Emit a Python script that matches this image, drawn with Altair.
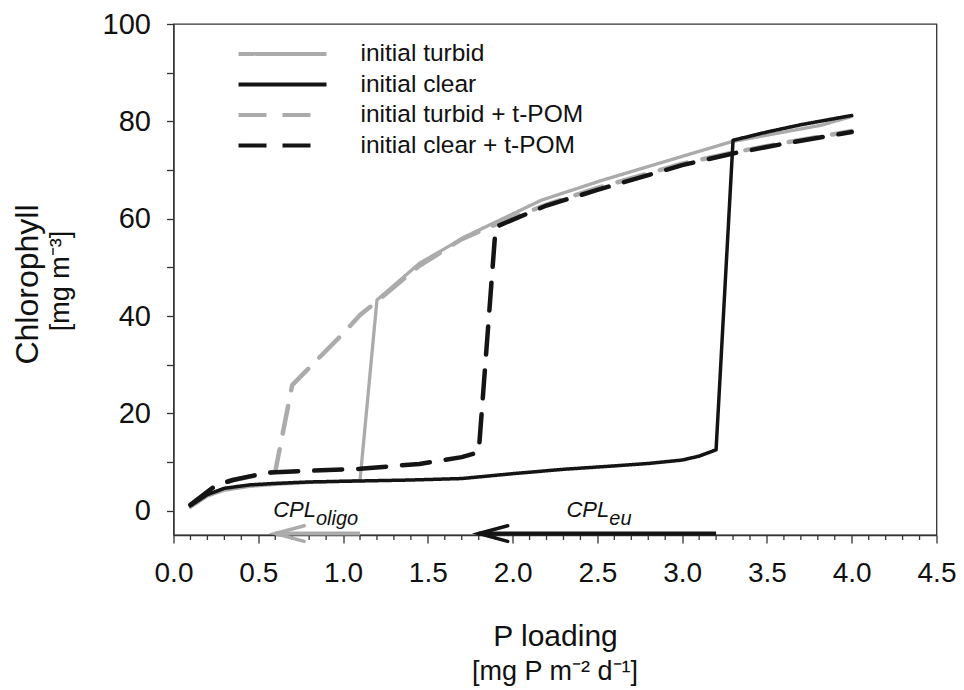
import altair as alt
import pandas as pd

FONT = "Liberation Sans"

# ---------------- data ----------------
series_names = ["initial turbid", "initial clear", "initial turbid + t-POM", "initial clear + t-POM"]
series_colors = ["#ababab", "#141414", "#ababab", "#141414"]
series_dash = [[1, 0], [1, 0], [28, 16], [28, 16]]

turbid_x = [0.1, 0.2, 0.3, 0.45, 0.6, 0.8, 1.1, 1.2, 1.45, 1.72, 2.17, 2.53, 3.02, 3.29, 3.6, 3.82, 4.0]
turbid_y = [0.7, 3.0, 4.2, 5.0, 5.4, 5.8, 6.2, 43.3, 50.8, 56.3, 63.8, 67.9, 73.0, 75.8, 77.8, 79.2, 81.0]

clear_x = [0.1, 0.2, 0.3, 0.45, 0.6, 0.8, 1.1, 1.4, 1.7, 2.0, 2.3, 2.6, 2.8, 3.0, 3.1, 3.2, 3.3, 3.5, 3.7, 4.0]
clear_y = [1.0, 3.3, 4.6, 5.3, 5.6, 5.9, 6.1, 6.3, 6.6, 7.6, 8.5, 9.2, 9.7, 10.4, 11.2, 12.5, 76.1, 77.8, 79.3, 81.2]

turbid_pom_x = [0.1, 0.25, 0.35, 0.6, 0.7, 1.0, 1.1, 1.2, 1.45, 1.7, 1.9, 2.2, 2.5, 3.0, 3.3, 3.6, 4.0]
turbid_pom_y = [1.2, 5.2, 6.3, 8.0, 25.8, 36.4, 40.2, 43.0, 50.3, 55.8, 58.8, 62.9, 66.3, 71.3, 73.6, 75.6, 78.0]

clear_pom_x = [0.1, 0.25, 0.35, 0.55, 0.8, 1.1, 1.45, 1.7, 1.8, 1.9, 2.2, 2.5, 3.0, 3.3, 3.6, 4.0]
clear_pom_y = [1.2, 5.2, 6.3, 7.8, 8.2, 8.6, 9.6, 11.0, 12.0, 58.3, 62.7, 65.9, 71.0, 73.4, 75.4, 77.8]

# critical P loading arrows
arrow_start = [1.1, 3.2]
arrow_end = [0.6, 1.8]
arrow_level = [-4.7, -4.7]
arrow_colors = ["#ababab", "#141414"]

cpl_main = ["CPL", "CPL"]
cpl_sub = ["oligo", "eu"]
cpl_x = [0.84, 2.57]
cpl_y = [-1.4, -1.4]

x_major_ticks = [round(i * 0.5, 1) for i in range(10)]
x_minor_ticks = [round(i * 0.1, 1) for i in range(46) if i % 5 != 0]
y_ticks = [i * 10 for i in range(11)]

x_title = "P loading"
x_units = "[mg P m\u207b\u00b2 d\u207b\u00b9]"
y_title = "Chlorophyll"
y_units = "[mg m\u207b\u00b3]"

# ---------------- build ----------------
frames = []
for name, xs, ys in zip(series_names,
                        [turbid_x, clear_x, turbid_pom_x, clear_pom_x],
                        [turbid_y, clear_y, turbid_pom_y, clear_pom_y]):
    frames.append(pd.DataFrame({"series": name, "P": xs, "chl": ys}))
df = pd.concat(frames, ignore_index=True)

W, H = 763, 511
AX = "#333"

xscale = alt.Scale(domain=[0, 4.5], nice=False, zero=False)
yscale = alt.Scale(domain=[-5, 100], nice=False, zero=False)

x_axis = alt.Axis(
    values=x_major_ticks, format=".1f",
    tickSize=8, labelPadding=16, labelFontSize=28, labelFont=FONT, labelColor="#111",
    labelFlush=False, labelOverlap=False,
    title=x_title, titleFont=FONT, titleFontSize=30, titleFontWeight="normal", titleColor="#111",
    titleX=W / 2, titleY=110, titleBaseline="alphabetic", titleAlign="center",
    domainColor=AX, domainWidth=1.3, tickColor=AX, tickWidth=1.3, grid=False,
)
y_axis = alt.Axis(
    values=y_ticks,
    labelExpr="datum.value % 20 == 0 ? format(datum.value, 'd') : ''",
    tickSize=7, labelPadding=16, labelFontSize=29, labelFont=FONT, labelColor="#111",
    labelFlush=False, labelOverlap=False,
    title=y_title, titleFont=FONT, titleFontSize=32, titleFontWeight="normal", titleColor="#111",
    titleX=-146, titleY=260, titleBaseline="middle", titleAlign="center", titleAngle=270,
    domainColor=AX, domainWidth=1.3, tickColor=AX, tickWidth=1.3, grid=False,
)

# long horizontal legend line drawn as a custom path: spans 8 units of sqrt(size)/2 = 11 px
legend = alt.Legend(
    title=None, orient="none", legendX=63, legendY=17, padding=0,
    labelFont=FONT, labelFontSize=24.5, labelColor="#111", labelOffset=98, labelLimit=500,
    symbolType="M-1,0L7,0", symbolSize=484, symbolStrokeWidth=4, symbolFillColor="transparent",
    rowPadding=5.5,
)

color_scale = alt.Scale(domain=series_names, range=series_colors)
dash_scale = alt.Scale(domain=series_names, range=series_dash)


def series_layer(name, width):
    return alt.Chart(df).transform_filter(alt.datum.series == name).mark_line(
        strokeWidth=width, strokeJoin="round", strokeCap="round"
    ).encode(
        x=alt.X("P:Q", scale=xscale, axis=x_axis),
        y=alt.Y("chl:Q", scale=yscale, axis=y_axis),
        color=alt.Color("series:N", scale=color_scale, legend=legend),
        strokeDash=alt.StrokeDash("series:N", scale=dash_scale, legend=legend),
    )


lines = [
    series_layer("initial turbid + t-POM", 4.5),
    series_layer("initial turbid", 3.3),
    series_layer("initial clear + t-POM", 4.5),
    series_layer("initial clear", 3.5),
]

minor = alt.Chart(pd.DataFrame({"t": x_minor_ticks})).mark_rule(
    color=AX, strokeWidth=1.3
).encode(
    x=alt.X("t:Q", scale=xscale, axis=x_axis),
    y=alt.value(H), y2=alt.value(H + 5),
)

arrow_df = pd.DataFrame({"start": arrow_start, "end": arrow_end, "lvl": arrow_level, "col": arrow_colors})
shafts = alt.Chart(arrow_df).mark_rule(strokeWidth=4).encode(
    x="start:Q", x2="end:Q", y="lvl:Q",
    stroke=alt.Stroke("col:N", scale=None, legend=None),
)
heads = alt.Chart(arrow_df).mark_point(
    shape="M1,-0.27L0,0L1,0.27", size=3364, filled=False, strokeWidth=3.5, opacity=1,
    strokeJoin="miter", strokeCap="round",
).encode(
    x="end:Q", y="lvl:Q",
    stroke=alt.Stroke("col:N", scale=None, legend=None),
)

cpl_df = pd.DataFrame({"x": cpl_x, "y": cpl_y, "main": cpl_main, "sub": cpl_sub})
cpl_text = alt.Chart(cpl_df).mark_text(
    align="right", baseline="alphabetic", font=FONT, fontSize=22, fontStyle="italic", color="#111"
).encode(x="x:Q", y="y:Q", text="main:N")
cpl_subtext = alt.Chart(cpl_df).mark_text(
    align="left", baseline="alphabetic", font=FONT, fontSize=20, fontStyle="italic", color="#111", dy=8
).encode(x="x:Q", y="y:Q", text="sub:N")

xu = alt.Chart(pd.DataFrame({"t": [x_units]})).mark_text(
    align="center", baseline="alphabetic", font=FONT, fontSize=27, color="#111"
).encode(x=alt.value(W / 2), y=alt.value(656), text="t:N")
yu = alt.Chart(pd.DataFrame({"t": [y_units]})).mark_text(
    align="center", baseline="middle", font=FONT, fontSize=27, color="#111", angle=270
).encode(x=alt.value(-112.5), y=alt.value(257), text="t:N")

chart = alt.layer(*lines, minor, shafts, heads, cpl_text, cpl_subtext, xu, yu).properties(
    width=W, height=H,
    autosize=alt.AutoSizeParams(type="none"),
    padding={"left": 165.5, "top": 16, "right": 19.5, "bottom": 154},
).configure_view(stroke=AX, strokeWidth=1.3)

chart.save("out.html", embed_options={"renderer": "svg", "actions": False})
